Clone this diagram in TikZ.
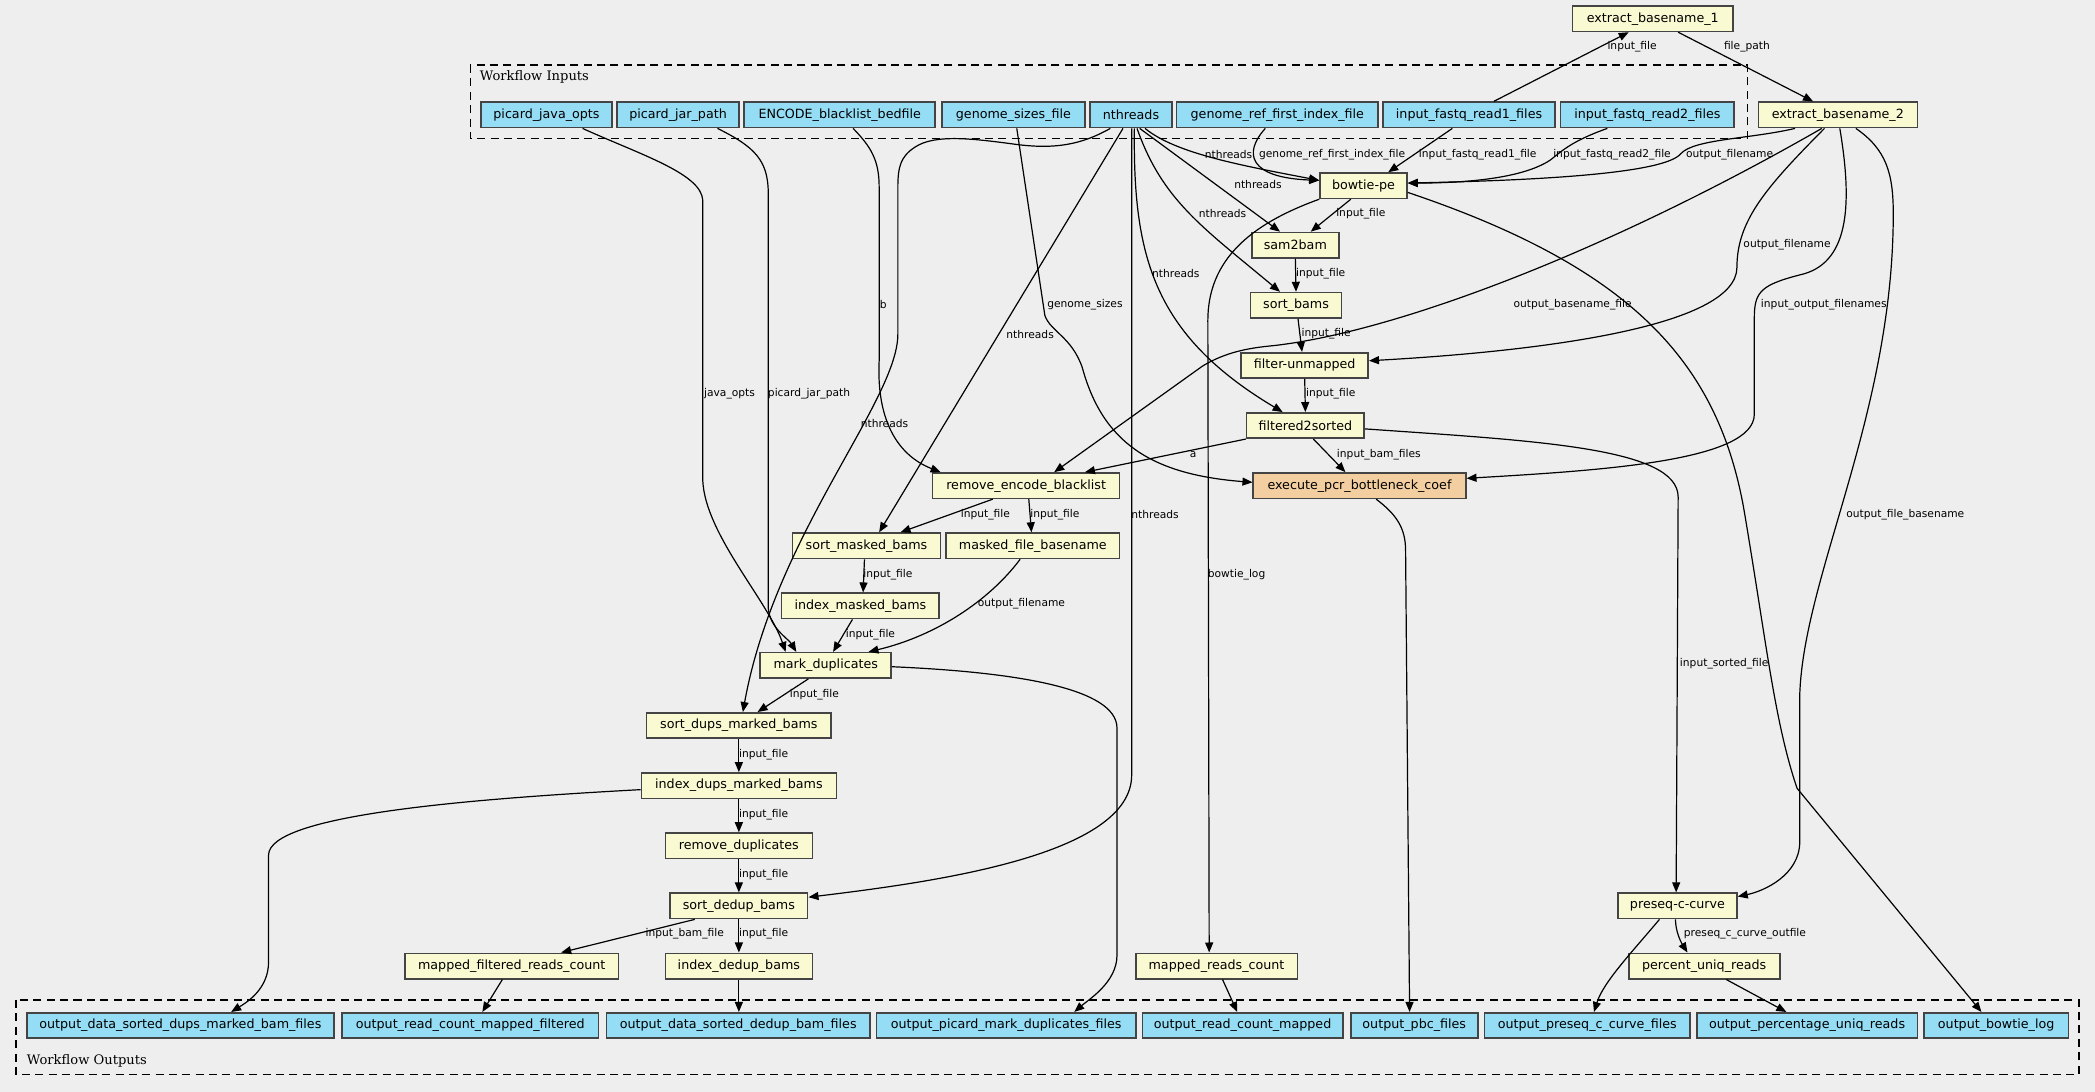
\documentclass[tikz,border=0pt]{standalone}
\usepackage{fontspec}
\newfontfamily\nodefont{DejaVu Sans}
\newfontfamily\clusterfont{DejaVu Serif}
\usetikzlibrary{arrows.meta}
\definecolor{bgcol}{HTML}{EEEEEE}
\definecolor{stepfill}{HTML}{FAFAD2}
\definecolor{iofill}{HTML}{94DDF4}
\definecolor{pcrfill}{HTML}{F3CEA1}
\definecolor{boxline}{HTML}{444444}

\tikzset{
  box/.style={draw=boxline, line width=1.2pt, minimum height=19pt, inner xsep=0pt, inner ysep=0pt,
    font=\nodefont\fontsize{9.5}{11}\selectfont},
  stepbox/.style={box, fill=stepfill},
  iobox/.style={box, fill=iofill},
  pcrbox/.style={box, fill=pcrfill},
  flow/.style={line width=0.9pt, -{Triangle[length=7.5pt,width=6pt]}},
  lbl/.style={font=\nodefont\fontsize{8}{9}\selectfont, inner sep=0pt},
  cluster/.style={draw, line width=0.9pt, dash pattern=on 6pt off 4pt},
  clustertitle/.style={anchor=west, inner sep=0pt, font=\clusterfont\fontsize{9.8}{11}\selectfont},
}

\begin{document}
\begin{tikzpicture}[x=1pt,y=-1pt]
  \fill[bgcol] (0,0) rectangle (1568,817);
  \useasboundingbox (0,0) rectangle (1568,817);

  % clusters
  \draw[cluster] (352,48.7) rectangle (1307.6,103.5);
  \node[clustertitle] (intitle) at (359,57.5) {Workflow Inputs};
  \draw[cluster] (12,748.5) rectangle (1556,804);
  \node[clustertitle] (outtitle) at (20,794) {Workflow Outputs};

  % workflow inputs
  \node[iobox, minimum width=98pt] (javaopts) at (409,86) {picard\_java\_opts};
  \node[iobox, minimum width=91pt] (jarpath) at (507.5,86) {picard\_jar\_path};
  \node[iobox, minimum width=143pt] (blacklist) at (628.5,86) {ENCODE\_blacklist\_bedfile};
  \node[iobox, minimum width=107pt] (gsizes) at (758.5,86) {genome\_sizes\_file};
  \node[iobox, minimum width=61pt] (nthreads) at (846.5,86) {nthreads};
  \node[iobox, minimum width=151pt] (gref) at (956,86) {genome\_ref\_first\_index\_file};
  \node[iobox, minimum width=129pt] (fq1) at (1099.5,86) {input\_fastq\_read1\_files};
  \node[iobox, minimum width=130pt] (fq2) at (1233,86) {input\_fastq\_read2\_files};

  % steps
  \node[stepbox, minimum width=120pt] (eb1) at (1237,14) {extract\_basename\_1};
  \node[stepbox, minimum width=119pt] (eb2) at (1375.5,86) {extract\_basename\_2};
  \node[stepbox, minimum width=65pt] (bowtie) at (1020.5,139) {bowtie-pe};
  \node[stepbox, minimum width=65pt] (samtobam) at (969.5,183.5) {sam2bam};
  \node[stepbox, minimum width=68pt] (sortbams) at (970,228.5) {sort\_bams};
  \node[stepbox, minimum width=95pt] (filterun) at (976.5,273.5) {filter-unmapped};
  \node[stepbox, minimum width=88pt] (filtsorted) at (977,318.5) {filtered2sorted};
  \node[stepbox, minimum width=140pt] (rmblack) at (768,363.5) {remove\_encode\_blacklist};
  \node[pcrbox, minimum width=159pt] (pcr) at (1017.5,363.5) {execute\_pcr\_bottleneck\_coef};
  \node[stepbox, minimum width=111pt] (sortmasked) at (648.5,408.5) {sort\_masked\_bams};
  \node[stepbox, minimum width=130pt] (maskedbase) at (773,408.5) {masked\_file\_basename};
  \node[stepbox, minimum width=118pt] (indexmasked) at (644,453.5) {index\_masked\_bams};
  \node[stepbox, minimum width=98pt] (markdup) at (618,498) {mark\_duplicates};
  \node[stepbox, minimum width=138pt] (sortdups) at (553,543) {sort\_dups\_marked\_bams};
  \node[stepbox, minimum width=146pt] (indexdups) at (553,588) {index\_dups\_marked\_bams};
  \node[stepbox, minimum width=110pt] (rmdup) at (553,633) {remove\_duplicates};
  \node[stepbox, minimum width=103pt] (sortdedup) at (553,678) {sort\_dedup\_bams};
  \node[stepbox, minimum width=160pt] (mfcount) at (383,723) {mapped\_filtered\_reads\_count};
  \node[stepbox, minimum width=110pt] (indexdedup) at (553,723) {index\_dedup\_bams};
  \node[stepbox, minimum width=121pt] (mcount) at (910.5,723) {mapped\_reads\_count};
  \node[stepbox, minimum width=89pt] (preseq) at (1255.5,678) {preseq-c-curve};
  \node[stepbox, minimum width=113pt] (pctuniq) at (1275.5,723) {percent\_uniq\_reads};

  % workflow outputs
  \node[iobox, minimum width=230pt] (odups) at (135,767.5) {output\_data\_sorted\_dups\_marked\_bam\_files};
  \node[iobox, minimum width=192pt] (ocountf) at (352,767.5) {output\_read\_count\_mapped\_filtered};
  \node[iobox, minimum width=197pt] (odedup) at (552.5,767.5) {output\_data\_sorted\_dedup\_bam\_files};
  \node[iobox, minimum width=194pt] (opicard) at (753,767.5) {output\_picard\_mark\_duplicates\_files};
  \node[iobox, minimum width=150pt] (ocount) at (930,767.5) {output\_read\_count\_mapped};
  \node[iobox, minimum width=95pt] (opbc) at (1058.5,767.5) {output\_pbc\_files};
  \node[iobox, minimum width=154pt] (opreseq) at (1188,767.5) {output\_preseq\_c\_curve\_files};
  \node[iobox, minimum width=165pt] (opct) at (1352.5,767.5) {output\_percentage\_uniq\_reads};
  \node[iobox, minimum width=108pt] (olog) at (1494,767.5) {output\_bowtie\_log};

  % basenames
  \draw[flow] ([xshift=18.5pt]fq1.north) -- ([xshift=-18pt]eb1.south);
  \node[lbl] (l01) at (1221.5,35) {input\_file};
  \draw[flow] ([xshift=19pt]eb1.south) -- ([xshift=-18.5pt]eb2.north);
  \node[lbl] (l02) at (1307.5,35) {file\_path};

  % into bowtie-pe
  \draw[flow] ([xshift=10.5pt]nthreads.south) .. controls (880,115) and (930,124) .. ([yshift=4pt]bowtie.west);
  \node[lbl] (l03) at (919.5,115.5) {nthreads};
  \draw[flow] ([xshift=-9pt]gref.south) .. controls (930,115) and (935,133) .. ([yshift=4pt]bowtie.west);
  \node[lbl] (l04) at (997,115.5) {genome\_ref\_first\_index\_file};
  \draw[flow] ([xshift=-12.5pt]fq1.south) -- ([xshift=18.5pt]bowtie.north);
  \node[lbl] (l05) at (1106,115.5) {input\_fastq\_read1\_file};
  \draw[flow] ([xshift=-30pt]fq2.south) .. controls (1175,106) and (1168,114) .. (1160,120)
    .. controls (1140,133) and (1100,137) .. ([yshift=2pt]bowtie.east);
  \node[lbl] (l06) at (1206.5,115.5) {input\_fastq\_read2\_file};
  \draw[flow] ([xshift=-32pt]eb2.south) .. controls (1310,104) and (1268,104) .. (1258,115)
    .. controls (1246,130) and (1150,135) .. ([yshift=2pt]bowtie.east);
  \node[lbl] (l07) at (1294.5,115.5) {output\_filename};

  % nthreads fan out
  \draw[flow] ([xshift=6.5pt]nthreads.south) -- ([xshift=-11.5pt]samtobam.north);
  \node[lbl] (l08) at (941.5,138) {nthreads};
  \draw[flow] ([xshift=4.5pt]nthreads.south) .. controls (870,150) and (900,170) .. ([xshift=-12pt]sortbams.north);
  \node[lbl] (l09) at (915,160) {nthreads};
  \draw[flow] ([xshift=2.5pt]nthreads.south) .. controls (848,190) and (862,250) .. ([xshift=-17pt]filtsorted.north);
  \node[lbl] (l10) at (880,205) {nthreads};
  \draw[flow] ([xshift=-6pt]nthreads.south) -- ([xshift=9.5pt]sortmasked.north);
  \node[lbl] (l11) at (771,250) {nthreads};
  \draw[flow] ([xshift=-15.5pt]nthreads.south) .. controls (810,108) and (790,112) .. (760,108)
    .. controls (730,104) and (700,100) .. (685,110) .. controls (674,117) and (672,125) .. (672,140)
    -- (672,250) .. controls (672,300) and (580,400) .. ([xshift=3pt]sortdups.north);
  \node[lbl] (l12) at (662,317) {nthreads};
  \draw[flow] ([xshift=0.5pt]nthreads.south) -- (847,580) .. controls (847,640) and (700,660) .. ([yshift=6.5pt]sortdedup.east);
  \node[lbl] (l13) at (864.5,385) {nthreads};

  % alignment chain
  \draw[flow] ([xshift=-9.5pt]bowtie.south) -- ([xshift=11.5pt]samtobam.north);
  \node[lbl] (l14) at (1018.5,160) {input\_file};
  \draw[flow] (samtobam.south) -- (sortbams.north);
  \node[lbl] (l15) at (988.5,205) {input\_file};
  \draw[flow] ([xshift=1.5pt]sortbams.south) -- ([xshift=-2pt]filterun.north);
  \node[lbl] (l16) at (992.5,250) {input\_file};
  \draw[flow] (filterun.south) -- (filtsorted.north);
  \node[lbl] (l17) at (996,295) {input\_file};

  % from extract_basename_2
  \draw[flow] ([xshift=-10pt]eb2.south) .. controls (1322,140) and (1300,165) .. (1300,200)
    .. controls (1300,245) and (1150,263) .. ([yshift=3.5pt]filterun.east);
  \node[lbl] (l18) at (1337.5,183) {output\_filename};
  \draw[flow] ([xshift=-12pt]eb2.south) .. controls (1200,190) and (1040,250) .. (950,259)
    .. controls (930,261) and (915,265) .. (900,274) -- ([xshift=21pt]rmblack.north);
  \node[lbl] (l19) at (1177,228) {output\_basename\_file};
  \draw[flow] ([xshift=1.5pt]eb2.south) .. controls (1386,150) and (1385,195) .. (1350,205)
    .. controls (1318,213) and (1313,218) .. (1313,238) -- (1313,310)
    .. controls (1313,345) and (1200,352) .. ([yshift=5.5pt]pcr.east);
  \node[lbl] (l20) at (1365,228) {input\_output\_filenames};
  \draw[flow] ([xshift=13.5pt]eb2.south) .. controls (1412,112) and (1417,130) .. (1417,160)
    .. controls (1417,310) and (1350,430) .. (1347,520) -- (1347,630)
    .. controls (1347,655) and (1320,667) .. ([yshift=7pt]preseq.east);
  \node[lbl] (l21) at (1426,385) {output\_file\_basename};

  % bowtie-pe outputs
  \draw[flow] ([yshift=-5pt]bowtie.east) .. controls (1220,200) and (1285,270) .. (1305,380)
    .. controls (1322,480) and (1328,540) .. (1345,590) -- ([xshift=-11pt]olog.north);
  \draw[flow] (bowtie.south west) .. controls (935,168) and (904,195) .. (904,240) -- ([xshift=-5.5pt]mcount.north);
  \node[lbl] (l22) at (925.5,430) {bowtie\_log};

  % filtered2sorted
  \draw[flow] (filtsorted.south west) -- ([xshift=44pt]rmblack.north);
  \node[lbl] (l23) at (893,340) {a};
  \draw[flow] ([xshift=6pt]filtsorted.south) -- ([xshift=-10.5pt]pcr.north);
  \node[lbl] (l24) at (1032,340) {input\_bam\_files};
  \draw[flow] ([yshift=-2.5pt]filtsorted.east) .. controls (1150,330) and (1256,335) .. (1256,372) -- ([xshift=-1pt]preseq.north);
  \node[lbl] (l25) at (1290.5,497) {input\_sorted\_file};

  % other inputs
  \draw[flow] ([xshift=2.5pt]gsizes.south) -- (782,236) .. controls (786,248) and (802,252) .. (810,275)
    .. controls (825,330) and (860,355) .. ([yshift=2.5pt]pcr.west);
  \node[lbl] (l26) at (812,228) {genome\_sizes};
  \draw[flow] ([xshift=10pt]blacklist.south) .. controls (652,110) and (658,120) .. (658,140) -- (658,270)
    .. controls (656,312) and (670,340) .. ([xshift=-64pt]rmblack.north);
  \node[lbl] (l27) at (661,228) {b};
  \draw[flow] ([xshift=27pt]javaopts.south) .. controls (480,116) and (525,130) .. (526,150) -- (526,360)
    .. controls (528,400) and (575,450) .. ([xshift=-30pt]markdup.north);
  \node[lbl] (l28) at (546,295) {java\_opts};
  \draw[flow] ([xshift=29.5pt]jarpath.south) .. controls (565,110) and (575,120) .. (575,145) -- (575,455)
    .. controls (576,470) and (590,478) .. ([xshift=-22pt]markdup.north);
  \node[lbl] (l29) at (605.5,295) {picard\_jar\_path};

  % masking and duplicates
  \draw[flow] ([xshift=-25pt]rmblack.south) -- ([xshift=25.5pt]sortmasked.north);
  \node[lbl] (l30) at (737.5,385) {input\_file};
  \draw[flow] ([xshift=2pt]rmblack.south) -- ([xshift=-1pt]maskedbase.north);
  \node[lbl] (l31) at (789.5,385) {input\_file};
  \draw[flow] ([xshift=-1.5pt]sortmasked.south) -- ([xshift=2pt]indexmasked.north);
  \node[lbl] (l32) at (664.5,430) {input\_file};
  \draw[flow] ([xshift=-6pt]indexmasked.south) -- ([xshift=5.5pt]markdup.north);
  \node[lbl] (l33) at (651.5,475) {input\_file};
  \draw[flow] ([xshift=-9.5pt]maskedbase.south) .. controls (740,450) and (700,476) .. ([xshift=32pt]markdup.north);
  \node[lbl] (l34) at (764.5,452) {output\_filename};
  \draw[flow] ([xshift=-13pt]markdup.south) -- ([xshift=14pt]sortdups.north);
  \node[lbl] (l35) at (609.5,520) {input\_file};
  \draw[flow] ([yshift=-1pt]markdup.east) .. controls (760,503) and (836,515) .. (836,545) -- (836,715)
    .. controls (836,735) and (815,748) .. ([xshift=51pt]opicard.north);
  \draw[flow] (sortdups.south) -- (indexdups.north);
  \node[lbl] (l36) at (571.5,565) {input\_file};
  \draw[flow] ([yshift=-3pt]indexdups.west) .. controls (350,598) and (201,610) .. (201,640) -- (201,720)
    .. controls (201,740) and (185,750) .. ([xshift=38pt]odups.north);
  \draw[flow] (indexdups.south) -- (rmdup.north);
  \node[lbl] (l37) at (571.5,610) {input\_file};
  \draw[flow] (rmdup.south) -- (sortdedup.north);
  \node[lbl] (l38) at (571.5,655) {input\_file};
  \draw[flow] ([xshift=-33pt]sortdedup.south) -- ([xshift=37pt]mfcount.north);
  \node[lbl] (l39) at (512.5,699) {input\_bam\_file};
  \draw[flow] (sortdedup.south) -- (indexdedup.north);
  \node[lbl] (l40) at (571.5,699) {input\_file};

  % into outputs
  \draw[flow] ([xshift=-7pt]mfcount.south) -- ([xshift=9pt]ocountf.north);
  \draw[flow] (indexdedup.south) -- ([xshift=0.5pt]odedup.north);
  \draw[flow] ([xshift=4.5pt]mcount.south) -- ([xshift=-4pt]ocount.north);
  \draw[flow] ([xshift=12.5pt]pcr.south) .. controls (1045,385) and (1052,395) .. (1052,412) -- ([xshift=-3.5pt]opbc.north);
  \draw[flow] ([xshift=-1.5pt]preseq.south) .. controls (1254,697) and (1258,705) .. ([xshift=-12.5pt]pctuniq.north);
  \node[lbl] (l41) at (1306,699) {preseq\_c\_curve\_outfile};
  \draw[flow] ([xshift=-13.5pt]preseq.south) .. controls (1222,712) and (1200,735) .. ([xshift=5pt]opreseq.north);
  \draw[flow] ([xshift=16.5pt]pctuniq.south) -- ([xshift=-15.5pt]opct.north);
\end{tikzpicture}
\end{document}
